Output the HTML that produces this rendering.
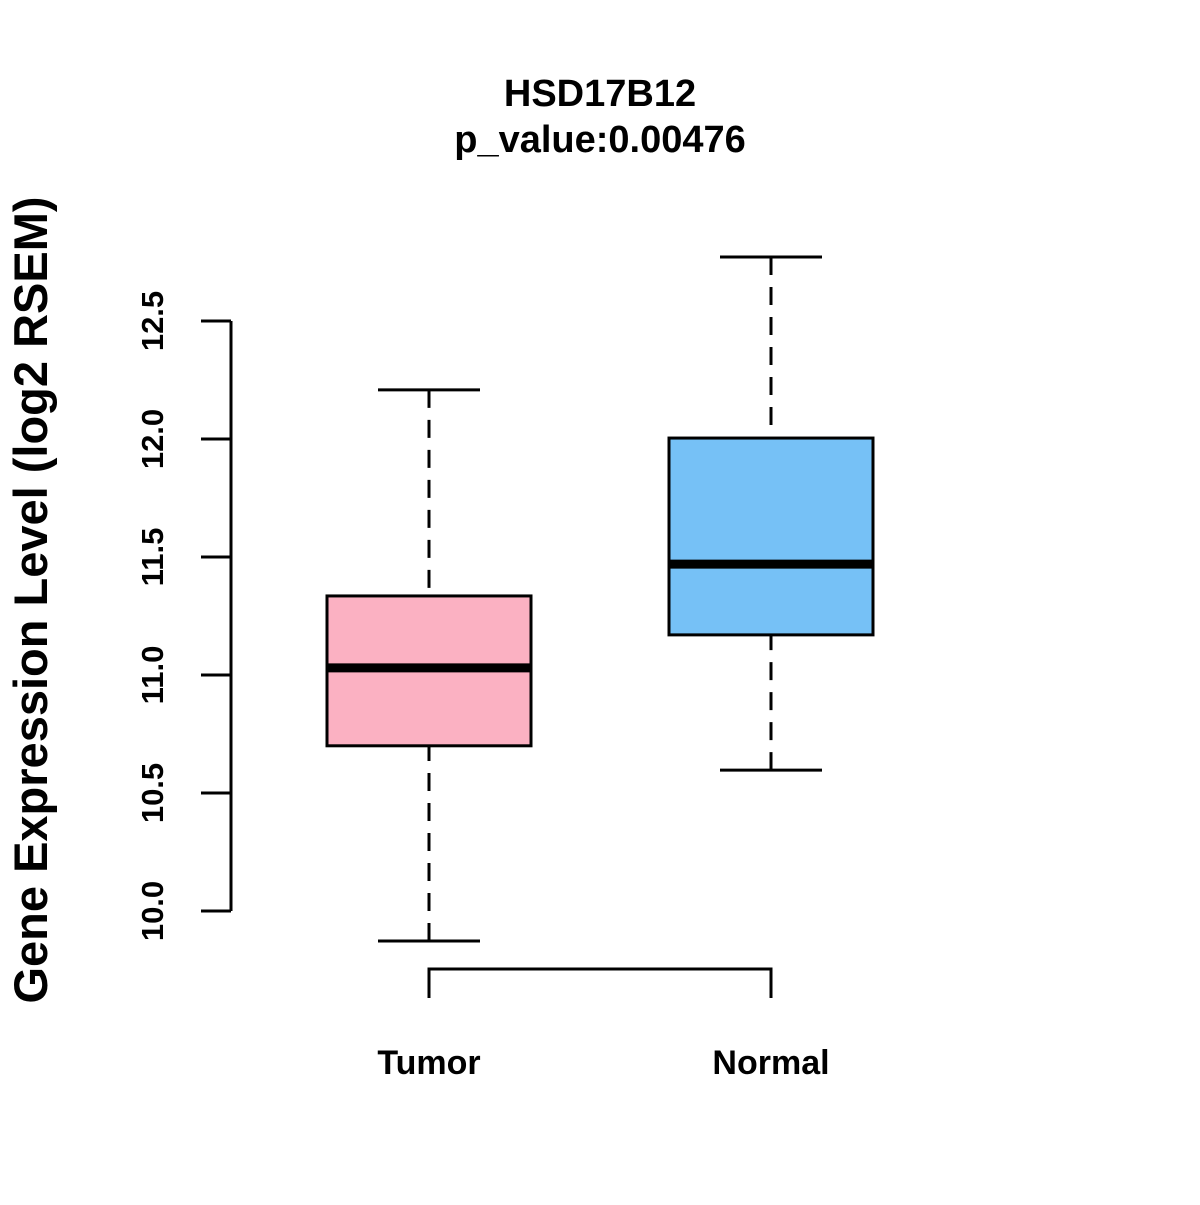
<!DOCTYPE html>
<html><head><meta charset="utf-8"><style>
html,body{margin:0;padding:0;background:#fff;}
svg text{font-family:"Liberation Sans",Arial,sans-serif;font-weight:bold;fill:#000;}
</style></head><body>
<svg id="chart" width="1200" height="1200" viewBox="0 0 1200 1200" xmlns="http://www.w3.org/2000/svg">
<rect width="1200" height="1200" fill="#fff"/>
<text x="600" y="106" font-size="38" text-anchor="middle">HSD17B12</text>
<text x="600" y="152" font-size="38" text-anchor="middle">p_value:0.00476</text>
<text transform="translate(47,600) rotate(-90)" font-size="47" text-anchor="middle">Gene Expression Level (log2 RSEM)</text>
<g id="axis"></g>
<g id="boxes"></g>
</svg>
<script>
const groups = ["Tumor", "Normal"];
const whiskerLow = [9.873, 10.597];
const q1 = [10.70, 11.17];
const median = [11.03, 11.47];
const q3 = [11.335, 12.004];
const whiskerHigh = [12.208, 12.771];
const fills = ["#FBB1C2", "#76C1F6"];
const yTicks = [10.0, 10.5, 11.0, 11.5, 12.0, 12.5];

const NS = "http://www.w3.org/2000/svg";
function y(v){ return 911 - (v - 10) * 236; }
function x(i){ return 429 + i * 342; }
function mk(tag, attrs, parent){
  const e = document.createElementNS(NS, tag);
  for (const k in attrs) e.setAttribute(k, attrs[k]);
  parent.appendChild(e);
  return e;
}
const axis = document.getElementById('axis');
const boxes = document.getElementById('boxes');
const axl = mk('line', {x1:231, x2:231, y1:y(yTicks[0]), y2:y(yTicks[yTicks.length-1]), stroke:'#000', 'stroke-width':3}, axis);


yTicks.forEach(t => {
  const tk = mk('line', {x1:201, x2:231, y1:y(t), y2:y(t), stroke:'#000', 'stroke-width':3}, axis);
  
  
  const lb = mk('text', {transform:`translate(163,${y(t)}) rotate(-90)`, 'font-size':31, 'text-anchor':'middle'}, axis);
  lb.textContent = t.toFixed(1);
  
  
});
const br = mk('path', {d:`M${x(0)} 998 V969 H${x(groups.length-1)} V998`, fill:'none', stroke:'#000', 'stroke-width':3}, axis);


groups.forEach((g, i) => {
  const cx = x(i);
  const gg = mk('g', {}, boxes);
  
  
  mk('line', {x1:cx, x2:cx, y1:y(whiskerHigh[i]), y2:y(q3[i]), stroke:'#000', 'stroke-width':3, 'stroke-dasharray':'18 12'}, gg);
  mk('line', {x1:cx, x2:cx, y1:y(whiskerLow[i]), y2:y(q1[i]), stroke:'#000', 'stroke-width':3, 'stroke-dasharray':'18 12'}, gg);
  mk('line', {x1:cx-51, x2:cx+51, y1:y(whiskerHigh[i]), y2:y(whiskerHigh[i]), stroke:'#000', 'stroke-width':3}, gg);
  mk('line', {x1:cx-51, x2:cx+51, y1:y(whiskerLow[i]), y2:y(whiskerLow[i]), stroke:'#000', 'stroke-width':3}, gg);
  mk('rect', {x:cx-102, width:204, y:y(q3[i]), height:y(q1[i])-y(q3[i]), fill:fills[i], stroke:'#000', 'stroke-width':3}, gg);
  mk('line', {x1:cx-102, x2:cx+102, y1:y(median[i]), y2:y(median[i]), stroke:'#000', 'stroke-width':9}, gg);
  const lb = mk('text', {x:cx, y:1074, 'font-size':34, 'text-anchor':'middle'}, axis);
  lb.textContent = g;
  
  
});
</script>
</body></html>
